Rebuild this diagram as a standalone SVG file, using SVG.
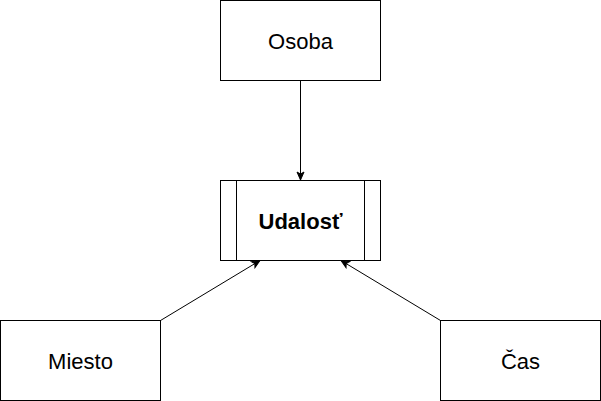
<svg xmlns="http://www.w3.org/2000/svg" width="601" height="401" viewBox="0 0 601 401">
<style>
.box{fill:#ffffff;stroke:#000000;stroke-width:1}
.lbl{font-family:"Liberation Sans",Arial,sans-serif;font-size:22px;fill:#000000;text-anchor:middle}
.edge{fill:none;stroke:#000000;stroke-width:1}
</style>
<defs>
<marker id="arr" viewBox="0 0 10 10" refX="9" refY="5" markerWidth="10" markerHeight="10" markerUnits="userSpaceOnUse" orient="auto">
<path d="M1,1.5 L9,5 L1,8.5 L3,5 Z" fill="#000000" stroke="#000000" stroke-width="1"/>
</marker>
</defs>
<g id="connectors">
<line class="edge" x1="300.5" y1="80.5" x2="300.5" y2="180" marker-end="url(#arr)"/>
<line class="edge" x1="160.5" y1="320.5" x2="260" y2="260.5" marker-end="url(#arr)"/>
<line class="edge" x1="440.5" y1="320.5" x2="341" y2="260.5" marker-end="url(#arr)"/>
</g>
<g id="osoba">
<rect class="box" x="220.5" y="0.5" width="160" height="80"/>
<text class="lbl" x="300.5" y="48.5">Osoba</text>
</g>
<g id="udalost">
<rect class="box" x="220.5" y="180.5" width="160" height="80"/>
<line class="edge" x1="236.5" y1="180.5" x2="236.5" y2="260.5"/>
<line class="edge" x1="364.5" y1="180.5" x2="364.5" y2="260.5"/>
<text class="lbl" x="300.5" y="228.5" font-weight="bold">Udalosť</text>
</g>
<g id="miesto">
<rect class="box" x="0.5" y="320.5" width="160" height="80"/>
<text class="lbl" x="80.5" y="368.5">Miesto</text>
</g>
<g id="cas">
<rect class="box" x="440.5" y="320.5" width="160" height="80"/>
<text class="lbl" x="520.5" y="368.5">Čas</text>
</g>
</svg>
